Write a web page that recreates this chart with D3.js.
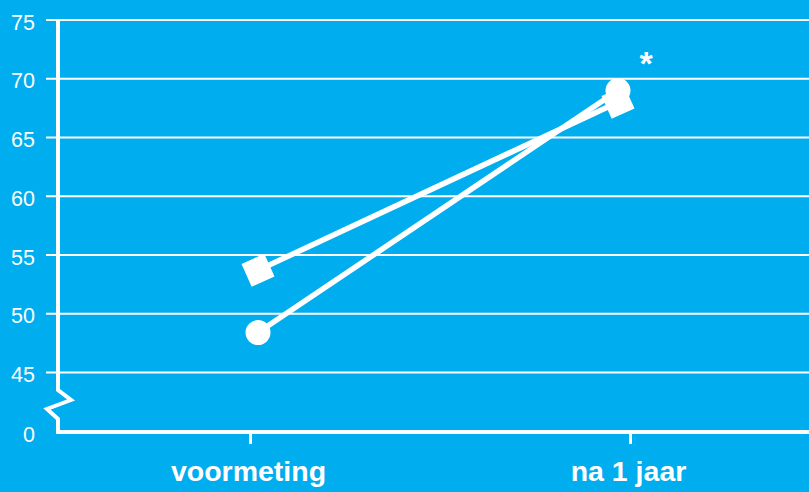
<!DOCTYPE html>
<html><head><meta charset="utf-8">
<script src="https://cdn.jsdelivr.net/npm/d3@7"></script>
<style>body{margin:0;background:#00ADEE;}svg{display:block;}</style>
</head><body><svg id="c" width="809" height="492"></svg>
<script>
const categories = ["voormeting", "na 1 jaar"];
const seriesSquare = [53.7, 68.0];
const seriesCircle = [48.4, 69.0];
const yTicks = [0, 45, 50, 55, 60, 65, 70, 75];
const annotation = "*";

const W = 809, H = 492;
const svg = d3.select("#c");
svg.append("rect").attr("width", W).attr("height", H).attr("fill", "#00ADEE");
const white = "#ffffff";
const font = "Liberation Sans, Arial, sans-serif";

// broken axis: 0 at baseline, 45..75 linear above
const y = d3.scaleLinear().domain([0, 45, 75]).range([432, 372.5, 20]);
const xAxisScale = d3.scalePoint().domain(categories).range([250, 630]);
const xData = d3.scalePoint().domain(categories).range([258, 618]);

const axisX = 58;

// gridlines
svg.append("g").selectAll("line").data(yTicks.filter(d => d > 0)).join("line")
  .attr("x1", 46).attr("x2", W).attr("y1", d => y(d)).attr("y2", d => y(d))
  .attr("stroke", white).attr("stroke-width", 2.2);

// y labels
svg.append("g").selectAll("text").data(yTicks).join("text")
  .attr("x", 35).attr("y", d => y(d)).attr("dy", 9.5)
  .attr("text-anchor", "end").attr("fill", white)
  .attr("font-family", font).attr("font-size", 21.5)
  .text(d => d);

// vertical axis with break and bottom axis
const axisPath = d3.path();
axisPath.moveTo(axisX, y(75) - 1);
axisPath.lineTo(axisX, 390);
axisPath.lineTo(71, 400);
axisPath.lineTo(47, 409);
axisPath.lineTo(axisX, 419);
axisPath.lineTo(axisX, y(0));
axisPath.lineTo(W, y(0));
svg.append("path").attr("d", axisPath.toString()).attr("fill", "none")
  .attr("stroke", white).attr("stroke-width", 4).attr("stroke-linejoin", "miter");

// x ticks and labels
const xAxis = d3.axisBottom(xAxisScale).tickSize(12).tickPadding(0);
const gx = svg.append("g").attr("transform", `translate(0,${y(0)})`).call(xAxis);
gx.select(".domain").remove();
gx.selectAll(".tick line").attr("stroke", white).attr("stroke-width", 3);
gx.selectAll(".tick text").attr("fill", white).attr("y", 49).attr("dy", 0).attr("x", -2)
  .attr("font-family", font).attr("font-size", 28.5)
  .attr("font-weight", "bold");

// lines
const line = d3.line().x((d, i) => xData(categories[i])).y(d => y(d));
[seriesSquare, seriesCircle].forEach(s => {
  svg.append("path").datum(s).attr("d", line).attr("fill", "none")
    .attr("stroke", white).attr("stroke-width", 5.5);
});

// square markers (rotated)
const sq = 25;
svg.append("g").selectAll("rect").data(seriesSquare).join("rect")
  .attr("x", -sq / 2).attr("y", -sq / 2).attr("width", sq).attr("height", sq)
  .attr("transform", (d, i) => `translate(${xData(categories[i])},${y(d)}) rotate(-24)`)
  .attr("fill", white);

// circle markers
svg.append("g").selectAll("circle").data(seriesCircle).join("circle")
  .attr("cx", (d, i) => xData(categories[i])).attr("cy", d => y(d)).attr("r", 12.5)
  .attr("fill", white);

// asterisk
svg.append("text").attr("x", 646).attr("y", 75).attr("text-anchor", "middle")
  .attr("fill", white).attr("font-family", font)
  .attr("font-size", 34).attr("font-weight", "bold").text(annotation);
</script>
</body></html>
